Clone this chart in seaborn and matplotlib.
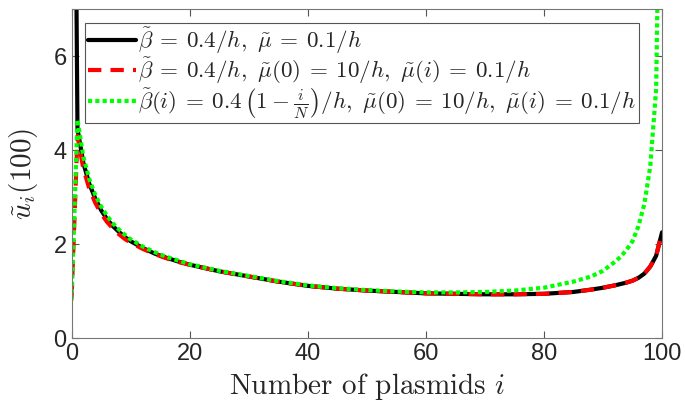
import matplotlib
matplotlib.use("Agg")
from matplotlib import pyplot as plt
import seaborn as sns

# sample positions (number of plasmids i)
i_vals = [0, 1, 2, 3, 4, 5, 6, 7, 8, 9, 10, 12, 14, 16, 18, 20, 25, 30, 35, 40,
          45, 50, 55, 60, 65, 70, 75, 80, 85, 88, 90, 92, 93, 94, 95, 96, 97, 98, 99, 100]

# constant beta, constant mu
u_const = [20.0, 4.45, 3.72, 3.28, 2.97, 2.72, 2.53, 2.38, 2.26, 2.15, 2.06, 1.92, 1.80, 1.71, 1.63, 1.56,
           1.42, 1.31, 1.20, 1.11, 1.05, 1.01, 0.98, 0.95, 0.94, 0.93, 0.93, 0.94, 0.98, 1.03,
           1.07, 1.12, 1.15, 1.18, 1.22, 1.28, 1.37, 1.52, 1.75, 2.25]

# constant beta, mu(0)=10
u_mu0 = [0.85, 4.30, 3.60, 3.18, 2.88, 2.65, 2.47, 2.33, 2.21, 2.11, 2.03, 1.90, 1.79, 1.70, 1.62, 1.56,
         1.42, 1.31, 1.20, 1.11, 1.05, 1.01, 0.98, 0.95, 0.94, 0.93, 0.93, 0.94, 0.98, 1.03,
         1.07, 1.12, 1.15, 1.18, 1.22, 1.28, 1.37, 1.52, 1.75, 2.25]

# beta(i) decreasing, mu(0)=10
u_beta_i = [0.80, 4.65, 3.85, 3.38, 3.05, 2.80, 2.60, 2.44, 2.31, 2.20, 2.10, 1.95, 1.83, 1.73, 1.65, 1.57,
            1.43, 1.32, 1.21, 1.12, 1.06, 1.02, 0.99, 0.97, 0.97, 0.98, 1.01, 1.07, 1.20, 1.31,
            1.43, 1.62, 1.73, 1.88, 2.06, 2.38, 2.85, 3.65, 5.30, 14.0]

labels = [
    r"$\tilde{\beta}\:=\:0.4/h,\ \tilde{\mu}\:=\:0.1/h$",
    r"$\tilde{\beta}\:=\:0.4/h,\ \tilde{\mu}(0)\:=\:10/h,\ \tilde{\mu}(i)\:=\:0.1/h$",
    r"$\tilde{\beta}(i)\:=\:0.4\,\left(1-\frac{i}{N}\right)/h,\ \tilde{\mu}(0)\:=\:10/h,\ \tilde{\mu}(i)\:=\:0.1/h$",
]

sns.set_style("ticks")
plt.rcParams['mathtext.fontset'] = 'cm'
plt.rcParams['font.family'] = ['Liberation Sans', 'DejaVu Sans']

fig = plt.figure(figsize=(6.85, 4.12), dpi=100)
ax = fig.add_axes([0.1045, 0.1796, 0.862, 0.7984])

sns.lineplot(x=i_vals, y=u_const, ax=ax, color='black', lw=3, label=labels[0])
sns.lineplot(x=i_vals, y=u_mu0, ax=ax, color='#ff0000', lw=3,
             linestyle=(0, (3.2, 2.2)), label=labels[1])
sns.lineplot(x=i_vals, y=u_beta_i, ax=ax, color='#00ff00', lw=3,
             linestyle=(0, (1, 0.75)), label=labels[2])

ax.set_xlim(0, 100)
ax.set_ylim(0, 7)
ax.set_xticks([0, 20, 40, 60, 80, 100])
ax.set_yticks([0, 2, 4, 6])
ax.tick_params(direction='in', top=True, right=True, length=5, width=0.8,
               color='#555555', labelsize=17, labelcolor='#262626')
for s in ax.spines.values():
    s.set_color('#777777')
    s.set_linewidth(0.8)

ax.set_xlabel("Number of plasmids $i$", fontsize=21, family='cmr10')
ax.xaxis.set_label_coords(0.5, -0.1)
ax.set_ylabel(r"$\tilde{u}_i(100)$", fontsize=21)
ax.yaxis.set_label_coords(-0.054, 0.5)

leg = ax.legend(loc='upper left', fontsize=16.6, handlelength=2.1, handletextpad=0.1,
                labelspacing=0.0, borderpad=0.1, borderaxespad=0.6,
                fancybox=False, framealpha=1, edgecolor='#555555')
leg.get_frame().set_linewidth(0.8)

fig.savefig("out.png", dpi=100)
